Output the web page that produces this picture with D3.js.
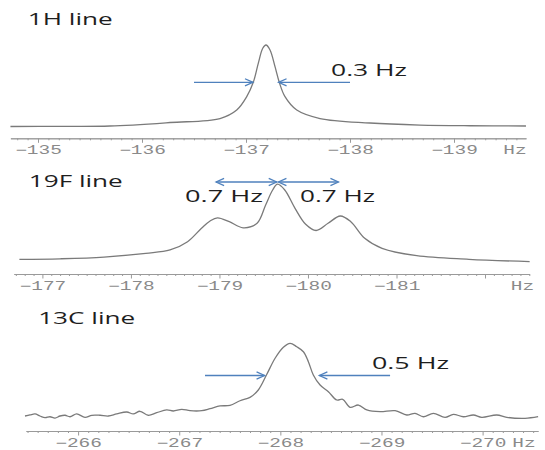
<!DOCTYPE html>
<html>
<head>
<meta charset="utf-8">
<script src="https://cdn.jsdelivr.net/npm/d3@7/dist/d3.min.js"></script>
<style>
  html, body { margin: 0; padding: 0; background: #fff; }
  svg { display: block; }
</style>
</head>
<body>
<script>
// ---------- DATA ----------
// 1H line spectrum: frequency (Hz) and relative intensity
const h1Hz  = [-134.735,-135.212,-135.692,-136.269,-136.75,-136.911,-137.007,-137.070,-137.118,-137.161,-137.192,-137.231,-137.279,-137.320,-137.375,-137.488,-137.712,-138.192,-138.673,-139.154,-139.692];
const h1Int = [0.000,0.002,0.006,0.049,0.098,0.202,0.366,0.542,0.775,0.960,1.000,0.939,0.734,0.542,0.366,0.202,0.098,0.043,0.018,0.009,0.006];

// 19F line spectrum
const f19Hz  = [-176.74,-177.199,-177.696,-178.168,-178.442,-178.640,-178.797,-178.894,-178.978,-179.111,-179.267,-179.425,-179.522,-179.601,-179.656,-179.738,-179.854,-179.974,-180.092,-180.227,-180.365,-180.484,-180.641,-180.837,-181.229,-181.818,-182.504];
const f19Int = [0.007,0.016,0.039,0.088,0.132,0.241,0.417,0.513,0.555,0.504,0.424,0.483,0.724,0.921,0.997,0.921,0.680,0.470,0.388,0.483,0.579,0.504,0.286,0.154,0.057,0.009,-0.022];

// 13C line spectrum
const c13Hz  = [-265.475,-265.524,-265.574,-265.623,-265.673,-265.722,-265.772,-265.821,-265.871,-265.920,-265.986,-266.068,-266.135,-266.217,-266.299,-266.382,-266.481,-266.546,-266.612,-266.694,-266.777,-266.876,-266.942,-267.025,-267.107,-267.223,-267.305,-267.404,-267.502,-267.601,-267.700,-267.782,-267.865,-267.948,-268.030,-268.096,-268.162,-268.228,-268.277,-268.326,-268.393,-268.475,-268.558,-268.617,-268.689,-268.772,-268.855,-268.986,-269.135,-269.250,-269.332,-269.414,-269.513,-269.629,-269.711,-269.810,-269.909,-269.992,-270.140,-270.239,-270.420,-270.549];
const c13Int = [0.000,0.014,0.028,0.000,-0.023,-0.010,-0.028,0.000,0.010,-0.010,0.028,-0.018,0.010,0.010,0.000,0.028,0.055,0.028,0.065,0.010,0.045,0.083,0.069,0.092,0.073,0.073,0.100,0.138,0.147,0.210,0.257,0.358,0.571,0.794,0.945,1.000,0.953,0.884,0.747,0.564,0.426,0.334,0.220,0.230,0.120,0.151,0.083,0.059,0.073,0.014,0.037,-0.010,0.037,-0.018,0.023,-0.010,0.014,-0.018,0.014,-0.018,-0.032,-0.010];

// Axis ticks
const h1Ticks = [-135,-136,-137,-138,-139];
const h1Labels = [-135,-136,-137,-138,-139];
const f19Ticks = [-177,-178,-179,-180,-181,-182];
const f19Labels = [-177,-178,-179,-180,-181];
const c13Ticks = [-266,-267,-268,-269,-270];
const c13Labels = [-266,-267,-268,-269,-270];

// Titles and annotations
const titles = ["1H line","19F line","13C line"];
const h1Width = ["0.3 Hz"];
const f19Width = ["0.7 Hz","0.7 Hz"];
const c13Width = ["0.5 Hz"];
// arrows: [fromHz, toHz, level]
const h1Arrows = [[-136.5,-137.067,0.542],[-138.0,-137.313,0.542]];
const f19Arrows = [[-178.962,-179.647,1.026],[-179.666,-180.344,1.026]];
const c13Arrows = [[-267.255,-267.844,0.557],[-269.085,-268.386,0.557]];

// ---------- DRAWING ----------
const W = 545, H = 450;
const svg = d3.select("body").append("svg").attr("width", W).attr("height", H);
svg.append("rect").attr("width", W).attr("height", H).attr("fill", "#fff");

const LINE = "#7a7a7a", AX = "#9a9a9a", LAB = "#8a8a8a", BLUE = "#4f81bd";
const TFONT = "'Open Sans', 'Noto Sans', sans-serif";

function stretchedText(x, y, str, len, size, anchor) {
  return svg.append("text")
    .attr("x", x).attr("y", y)
    .attr("font-family", TFONT).attr("font-size", size)
    .attr("fill", "#1e1e1e")
    .attr("text-anchor", anchor || "start")
    .attr("textLength", len).attr("lengthAdjust", "spacingAndGlyphs")
    .text(str);
}

function arrowHead(g, tipX, y, dir) {
  // dir = +1 pointing right, -1 pointing left
  const L = 8, Wd = 3.6;
  g.append("path")
    .attr("d", `M${tipX - dir * L},${y - Wd} L${tipX},${y} L${tipX - dir * L},${y + Wd}`)
    .attr("fill", "none").attr("stroke", BLUE).attr("stroke-width", 1.3);
}

function panel(cfg, hz, inten, majors, labeled, arrows, doubleHead) {
  const base = d3.scaleLinear().domain(cfg.anchorDom).range(cfg.anchorRng);
  const x = d3.scaleLinear()
    .domain([base.invert(cfg.ext[0]), base.invert(cfg.ext[1])])
    .range(cfg.ext);
  const y = d3.scaleLinear().domain([0, 1]).range(cfg.yRng);

  // spectrum
  svg.append("path")
    .datum(d3.zip(hz, inten))
    .attr("d", d3.line().x(d => x(d[0])).y(d => y(d[1])).curve(d3.curveCatmullRom.alpha(0.5)))
    .attr("fill", "none").attr("stroke", LINE).attr("stroke-width", 1.3)
    .attr("stroke-linejoin", "round");

  // minor ticks every 0.1 Hz
  const [a, b] = x.domain();
  const lo = Math.min(a, b), hi = Math.max(a, b);
  const minor = d3.range(Math.ceil(lo * 10), Math.floor(hi * 10) + 1)
    .filter(v => v % 10 !== 0).map(v => v / 10);

  const gMin = svg.append("g").attr("transform", `translate(0,${cfg.axisY})`)
    .call(d3.axisBottom(x).tickValues(minor).tickSize(2).tickSizeOuter(0).tickFormat(""));
  const gMaj = svg.append("g").attr("transform", `translate(0,${cfg.axisY})`)
    .call(d3.axisBottom(x).tickValues(majors).tickSize(4.5).tickSizeOuter(0).tickPadding(3)
      .tickFormat(d => labeled.includes(d) ? "\u2212" + Math.abs(d) : ""));
  [gMin, gMaj].forEach(g => {
    g.selectAll("path, line").attr("stroke", AX).attr("stroke-width", 1);
  });
  gMaj.selectAll("text")
    .attr("font-family", "'Liberation Mono', 'DejaVu Sans Mono', monospace")
    .attr("font-size", 12).attr("fill", LAB)
    .attr("transform", "scale(1.62,1)");

  // unit label
  svg.append("text")
    .attr("transform", `translate(${cfg.hzX},${cfg.axisY + 16}) scale(1.62,1)`)
    .attr("text-anchor", "middle")
    .attr("font-family", "'Liberation Mono', 'DejaVu Sans Mono', monospace")
    .attr("font-size", 12).attr("fill", LAB)
    .text("Hz");

  // arrows
  const ga = svg.append("g");
  arrows.forEach(([f, t, lev]) => {
    const x1 = x(f), x2 = x(t), yy = y(lev);
    ga.append("line").attr("x1", x1).attr("x2", x2).attr("y1", yy).attr("y2", yy)
      .attr("stroke", BLUE).attr("stroke-width", 1.3);
    const dir = x2 > x1 ? 1 : -1;
    arrowHead(ga, x2, yy, dir);
    if (doubleHead) arrowHead(ga, x1, yy, -dir);
  });
  return { x, y };
}

panel({ anchorDom: [-135, -139], anchorRng: [38, 454], ext: [10.4, 526], axisY: 138.3, yRng: [126.5, 45], hzX: 515 },
  h1Hz, h1Int, h1Ticks, h1Labels, h1Arrows, false);
panel({ anchorDom: [-177, -181], anchorRng: [42.4, 396.5], ext: [13.9, 529.5], axisY: 274, yRng: [260, 184], hzX: 522.5 },
  f19Hz, f19Int, f19Ticks, f19Labels, f19Arrows, true);
panel({ anchorDom: [-266, -270], anchorRng: [78.1, 482.6], ext: [26, 538], axisY: 431, yRng: [416, 343.3], hzX: 524 },
  c13Hz, c13Int, c13Ticks, c13Labels, c13Arrows, false);

// titles
stretchedText(27.8, 24.5, titles[0], 85, 15.5);
stretchedText(28.8, 187, titles[1], 94, 15.5);
stretchedText(38.2, 323.5, titles[2], 97, 15.5);

// width labels
stretchedText(331, 75.5, h1Width[0], 76, 15.5);
stretchedText(185, 202, f19Width[0], 78, 15.5);
stretchedText(300, 202, f19Width[1], 75, 15.5);
stretchedText(372, 368.5, c13Width[0], 77, 15.5);
</script>
</body>
</html>
